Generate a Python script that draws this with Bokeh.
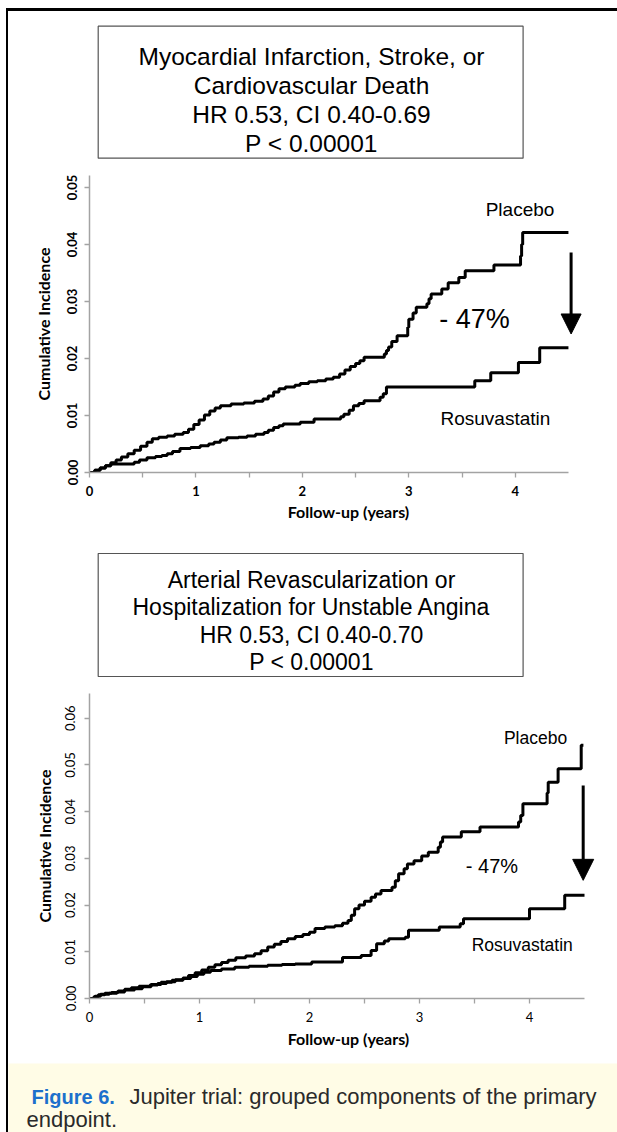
from bokeh.plotting import figure
from bokeh.models import (Range1d, FixedTicker, PrintfTickFormatter, Arrow,
                          NormalHead, Spacer)
from bokeh.layouts import column, row
from bokeh.core.properties import value
from bokeh.embed import file_html
from bokeh.resources import INLINE

# ---------------- data ----------------
title_a = ["Myocardial Infarction, Stroke, or", "Cardiovascular Death",
           "HR 0.53, CI 0.40-0.69", "P < 0.00001"]
title_b = ["Arterial Revascularization or", "Hospitalization for Unstable Angina",
           "HR 0.53, CI 0.40-0.70", "P < 0.00001"]

x_ticks = [0, 1, 2, 3, 4]
x_minor_ticks = [0.5, 1.5, 2.5, 3.5]
a_y_ticks = [0.0, 0.01, 0.02, 0.03, 0.04, 0.05]
b_y_ticks = [0.0, 0.01, 0.02, 0.03, 0.04, 0.05, 0.06]

series_names = ["Placebo", "Rosuvastatin"]
reduction_label = "- 47%"
x_label = "Follow-up (years)"
y_label = "Cumulative Incidence"

# Panel A: MI, stroke or CV death (step times / cumulative incidence)
a_placebo_t = [0.00, 0.05, 0.10, 0.15, 0.20, 0.25, 0.30, 0.36, 0.42, 0.48, 0.54,
               0.59, 0.65, 0.73, 0.80, 0.88, 0.93, 0.98, 1.03, 1.08, 1.13, 1.18,
               1.23, 1.33, 1.45, 1.55, 1.63, 1.68, 1.73, 1.78, 1.84, 1.93, 1.98,
               2.06, 2.14, 2.22, 2.29, 2.35, 2.40, 2.45, 2.50, 2.54, 2.58, 2.77,
               2.79, 2.81, 2.84, 2.89, 2.99, 3.00, 3.04, 3.07, 3.17, 3.19, 3.21,
               3.31, 3.37, 3.47, 3.53, 3.80, 4.05, 4.06, 4.07, 4.50]
a_placebo_v = [0.0000, 0.0004, 0.0008, 0.0012, 0.0017, 0.0022, 0.0027, 0.0033,
               0.0039, 0.0046, 0.0053, 0.0059, 0.0062, 0.0064, 0.0067, 0.0070,
               0.0076, 0.0084, 0.0092, 0.0101, 0.0108, 0.0113, 0.0117, 0.0120,
               0.0122, 0.0125, 0.0129, 0.0134, 0.0141, 0.0147, 0.0150, 0.0153,
               0.0156, 0.0159, 0.0161, 0.0164, 0.0167, 0.0173, 0.0180, 0.0186,
               0.0191, 0.0196, 0.0202, 0.0208, 0.0214, 0.0220, 0.0230, 0.0240,
               0.0255, 0.0269, 0.0280, 0.0290, 0.0296, 0.0305, 0.0313, 0.0322,
               0.0333, 0.0342, 0.0354, 0.0364, 0.0380, 0.0400, 0.0421, 0.0421]
a_rosu_t = [0.00, 0.05, 0.10, 0.15, 0.20, 0.42, 0.47, 0.54, 0.62, 0.68, 0.73,
            0.78, 0.85, 0.95, 1.04, 1.12, 1.17, 1.23, 1.29, 1.40, 1.48, 1.56,
            1.64, 1.68, 1.73, 1.78, 1.82, 1.98, 2.11, 2.36, 2.39, 2.44, 2.48,
            2.53, 2.58, 2.73, 2.76, 2.79, 3.62, 3.77, 4.03, 4.23, 4.50]
a_rosu_v = [0.0000, 0.0004, 0.0008, 0.0012, 0.0015, 0.0018, 0.0022, 0.0026,
            0.0028, 0.0030, 0.0033, 0.0037, 0.0042, 0.0044, 0.0047, 0.0050,
            0.0053, 0.0057, 0.0061, 0.0062, 0.0064, 0.0067, 0.0070, 0.0074,
            0.0079, 0.0082, 0.0085, 0.0088, 0.0094, 0.0098, 0.0102, 0.0109,
            0.0117, 0.0121, 0.0126, 0.0132, 0.0138, 0.0150, 0.0161, 0.0175,
            0.0193, 0.0219, 0.0219]

# Panel B: arterial revascularization or hospitalization for unstable angina
b_placebo_t = [0.00, 0.04, 0.08, 0.14, 0.20, 0.26, 0.32, 0.38, 0.45, 0.55, 0.62,
               0.70, 0.78, 0.85, 0.90, 0.96, 1.02, 1.08, 1.14, 1.20, 1.26, 1.33,
               1.42, 1.50, 1.56, 1.62, 1.68, 1.74, 1.80, 1.87, 1.94, 2.00, 2.05,
               2.14, 2.23, 2.30, 2.35, 2.38, 2.41, 2.45, 2.50, 2.56, 2.60, 2.65,
               2.75, 2.78, 2.81, 2.86, 2.89, 2.95, 3.02, 3.08, 3.17, 3.19, 3.21,
               3.38, 3.55, 3.90, 3.92, 3.94, 4.16, 4.17, 4.26, 4.47, 4.49]
b_placebo_v = [0.0000, 0.0004, 0.0008, 0.0011, 0.0013, 0.0016, 0.0020, 0.0023,
               0.0026, 0.0029, 0.0032, 0.0036, 0.0040, 0.0044, 0.0049, 0.0055,
               0.0061, 0.0067, 0.0072, 0.0077, 0.0082, 0.0087, 0.0091, 0.0096,
               0.0102, 0.0110, 0.0116, 0.0122, 0.0128, 0.0133, 0.0137, 0.0142,
               0.0150, 0.0153, 0.0156, 0.0161, 0.0167, 0.0178, 0.0192, 0.0200,
               0.0208, 0.0217, 0.0224, 0.0231, 0.0238, 0.0252, 0.0267, 0.0278,
               0.0288, 0.0295, 0.0305, 0.0313, 0.0324, 0.0335, 0.0346, 0.0357,
               0.0367, 0.0378, 0.0392, 0.0417, 0.0440, 0.0463, 0.0492, 0.0542,
               0.0542]
b_rosu_t = [0.00, 0.05, 0.10, 0.18, 0.25, 0.32, 0.41, 0.48, 0.56, 0.65, 0.75,
            0.85, 0.92, 0.98, 1.04, 1.10, 1.20, 1.32, 1.45, 1.62, 1.75, 1.87,
            2.02, 2.30, 2.47, 2.56, 2.61, 2.68, 2.72, 2.87, 2.90, 3.18, 3.37,
            3.40, 4.00, 4.32, 4.50]
b_rosu_v = [0.0000, 0.0005, 0.0009, 0.0011, 0.0014, 0.0018, 0.0021, 0.0025,
            0.0030, 0.0035, 0.0039, 0.0043, 0.0047, 0.0052, 0.0056, 0.0060,
            0.0063, 0.0067, 0.0069, 0.0071, 0.0073, 0.0074, 0.0078, 0.0088,
            0.0092, 0.0103, 0.0117, 0.0123, 0.0128, 0.0131, 0.0146, 0.0153,
            0.0160, 0.0171, 0.0192, 0.0221, 0.0221]

caption_bold = "Figure 6."
caption_lines = ["Jupiter trial: grouped components of the primary", "endpoint."]

# ---------------- styling ----------------
W = 609            # width of the content column (page x 8 .. 617)
X0 = 8             # page x of content column
BL, BR = 81, 10    # common frame borders (frame spans page x 89 .. 607)
ARIAL = value("Liberation Sans")
AXIS_GRAY = "#a3a3a3"


def header(y0, y1, lines, box, baselines, fs):
    f = figure(width=W, height=y1 - y0, x_range=Range1d(X0 + BL, X0 + W - BR),
               y_range=Range1d(y1, y0), x_axis_type=None, y_axis_type=None,
               output_backend="svg", toolbar_location=None,
               min_border_left=BL, min_border_right=BR, min_border_top=0,
               min_border_bottom=0, outline_line_color=None)
    f.quad(left=[box[0]], right=[box[1]], top=[box[2]], bottom=[box[3]],
           fill_color=None, line_color="#555555", line_width=1.2)
    f.text(x=[311] * len(lines), y=baselines, text=lines, text_align="center",
           text_baseline="alphabetic", text_font=ARIAL, text_font_size=fs,
           text_color="black")
    return f


def km(h, x_end, y_end, tb, pl_t, pl_v, ro_t, ro_v, y_ticks, bold,
       lab_fs, name_pos, red_pos, red_fs, arrow, arrow_size, stand):
    f = figure(width=W, height=h, x_range=Range1d(0, x_end),
               y_range=Range1d(0, y_end), output_backend="svg",
               toolbar_location=None, min_border_left=BL,
               min_border_right=BR, min_border_top=tb[0],
               min_border_bottom=tb[1], outline_line_color=None)
    f.grid.visible = False
    style = "bold" if bold else "normal"
    for ax in (f.xaxis[0], f.yaxis[0]):
        ax.axis_line_color = AXIS_GRAY
        ax.axis_line_width = 1.5
        ax.major_tick_line_color = AXIS_GRAY
        ax.minor_tick_line_color = AXIS_GRAY
        ax.major_tick_line_width = 1.3
        ax.minor_tick_line_width = 1.3
        ax.major_tick_in = 0
        ax.major_tick_out = 5
        ax.minor_tick_in = 0
        ax.minor_tick_out = 5
        ax.major_label_text_font = "Lato"
        ax.major_label_text_font_size = "13px"
        ax.major_label_text_font_style = style
        ax.major_label_text_color = "black"
        ax.axis_label_text_font = "Lato"
        ax.axis_label_text_font_size = "16px"
        ax.axis_label_text_font_style = "bold"
        ax.axis_label_text_color = "black"
    xa = f.xaxis[0]
    xa.bounds = (0, 4.5)
    xa.ticker = FixedTicker(ticks=x_ticks, minor_ticks=x_minor_ticks)
    xa.axis_label = x_label
    xa.major_label_standoff = stand[0]
    xa.axis_label_standoff = stand[1]
    ya = f.yaxis[0]
    ya.ticker = FixedTicker(ticks=y_ticks, minor_ticks=[])
    ya.formatter = PrintfTickFormatter(format="%.2f")
    ya.major_label_orientation = "vertical"
    ya.axis_label = y_label
    ya.major_label_standoff = stand[2]
    ya.axis_label_standoff = stand[3]

    f.step(pl_t, pl_v, mode="after", line_color="black", line_width=3)
    f.step(ro_t, ro_v, mode="after", line_color="black", line_width=3)

    f.text(x=[name_pos[0], name_pos[2]], y=[name_pos[1], name_pos[3]],
           text=series_names, text_align="center", text_baseline="middle",
           text_font=ARIAL, text_font_size=lab_fs, text_color="black")
    f.text(x=[red_pos[0]], y=[red_pos[1]], text=[reduction_label],
           text_align="center", text_baseline="middle", text_font=ARIAL,
           text_font_size=red_fs, text_color="black")
    f.add_layout(Arrow(end=NormalHead(size=arrow_size, fill_color="black",
                                      line_color="black", line_width=1),
                       x_start=arrow[0], y_start=arrow[1],
                       x_end=arrow[0], y_end=arrow[2],
                       line_color="black", line_width=3))
    return f


head_a = header(11, 172, title_a, (97.7, 522.6, 25.7, 157.7),
                [55.5, 84.5, 113.5, 142.5], "24.5px")
plot_a = km(358, 4.867, 0.0521, (3, 58), a_placebo_t, a_placebo_v,
            a_rosu_t, a_rosu_v, a_y_ticks, True, "19px",
            (4.045, 0.0461, 3.814, 0.0095), (3.617, 0.0270), "27px",
            (4.525, 0.0386, 0.0243), 20, (8, 3, 7, 12))
head_b = header(530, 690, title_b, (97.7, 522.6, 553, 676),
                [579.5, 606.8, 634, 661.3], "23px")
plot_b = km(373, 4.709, 0.0653, (3, 65), b_placebo_t, b_placebo_v,
            b_rosu_t, b_rosu_v, b_y_ticks, False, "17.5px",
            (4.055, 0.0557, 3.934, 0.0114), (3.659, 0.0283), "20px",
            (4.488, 0.0456, 0.0253), 21, (8, 4, 9, 9))

CAP_BG = "#FFFCE6"
cap = figure(width=W, height=69, x_range=Range1d(X0, X0 + W),
             y_range=Range1d(1132, 1063), x_axis_type=None, y_axis_type=None,
             output_backend="svg", toolbar_location=None, min_border=0,
             min_border_left=0, min_border_right=0, min_border_top=0,
             min_border_bottom=0, background_fill_color=CAP_BG,
             border_fill_color=CAP_BG, outline_line_color=None)
cap.text(x=[31], y=[1096], text=[caption_bold], text_align="left",
         text_baseline="alphabetic", text_font=ARIAL, text_font_size="20px",
         text_font_style="bold", text_color="#1C70CC")
cap.text(x=[129, 26], y=[1096, 1119], text=caption_lines, text_align="left",
         text_baseline="alphabetic", text_font=ARIAL, text_font_size="22px",
         text_color="#2a2a2a")

plots_col = column(head_a, plot_a, head_b, plot_b)
content = column(plots_col, row(cap))
framed = column(
    Spacer(width=611, height=3, styles={"background-color": "black"}),
    row(Spacer(width=2, height=1121, styles={"background-color": "black"}),
        content))
layout = column(Spacer(width=617, height=8),
                row(Spacer(width=6, height=1124), framed))

open("out.html", "w").write(file_html(layout, INLINE))
